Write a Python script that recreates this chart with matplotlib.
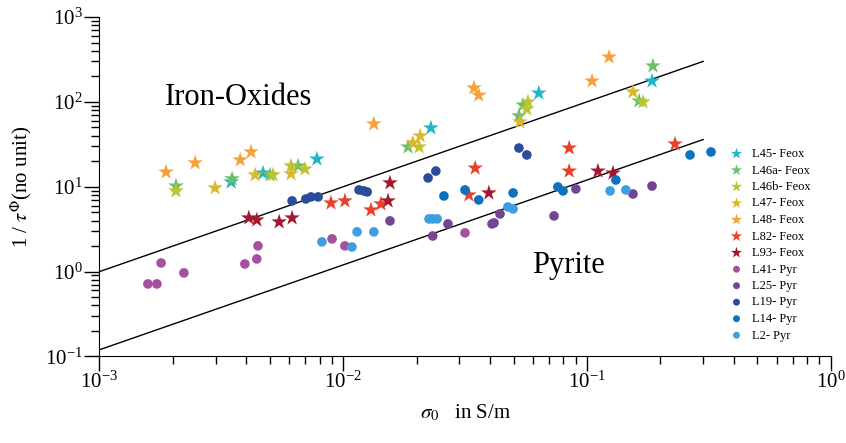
import matplotlib.pyplot as plt

plt.rcParams["font.family"] = ["Liberation Serif", "DejaVu Serif"]
plt.rcParams["mathtext.fontset"] = "stix"

# sigma_0 in S/m (x) and 1/tau^Phi (y) for each sample
l45_x = [0.00347, 0.00469, 0.0078, 0.0229, 0.0635, 0.185]
l45_y = [11.4, 14.5, 21.2, 49.3, 127, 176]
l46a_x = [0.00206, 0.0035, 0.00501, 0.00653, 0.01845, 0.0526, 0.0547, 0.1637, 0.1866]
l46a_y = [10.2, 12.4, 13.8, 17.6, 29.4, 68.2, 91.9, 102.5, 265]
l46b_x = [0.00206, 0.00515, 0.00611, 0.00697, 0.0205, 0.0567, 0.0573, 0.170]
l46b_y = [8.93, 13.8, 17.6, 16.2, 29.4, 82.5, 99.7, 99.7]
l47_x = [0.00298, 0.00435, 0.00611, 0.0193, 0.0207, 0.0531, 0.1545]
l47_y = [9.68, 13.8, 14.2, 32.8, 39.7, 58, 131]
l48_x = [0.001875, 0.00247, 0.00378, 0.00419, 0.01336, 0.0344, 0.0360, 0.105, 0.1233]
l48_y = [14.9, 19.1, 20.7, 25.7, 55, 146, 120, 176, 338]
l82_x = [0.00891, 0.01016, 0.0130, 0.01429, 0.0328, 0.0348, 0.0846, 0.0846, 0.230]
l82_y = [6.44, 6.81, 5.33, 6.27, 8.0, 16.6, 28.6, 15.3, 31.9]
l93_x = [0.0041, 0.00442, 0.00546, 0.00617, 0.01528, 0.01556, 0.0396, 0.111, 0.128]
l93_y = [4.29, 4.06, 3.85, 4.29, 6.81, 11.1, 8.45, 15.3, 14.5]
l41_x = [0.00158, 0.00172, 0.00179, 0.00222, 0.00395, 0.00442, 0.00447, 0.0090, 0.01016, 0.0316]
l41_y = [0.716, 0.716, 1.265, 0.966, 1.23, 1.41, 2.01, 2.43, 2.01, 2.86]
l25_x = [0.01556, 0.0233, 0.0269, 0.0408, 0.0416, 0.0440, 0.0733, 0.0901, 0.1545, 0.185]
l25_y = [3.96, 2.63, 3.65, 3.65, 3.75, 4.78, 4.53, 9.42, 8.22, 10.2]
l19_x = [0.00617, 0.00703, 0.00738, 0.00789, 0.01161, 0.01216, 0.01254, 0.0223, 0.0240, 0.0526, 0.0567]
l19_y = [6.81, 7.18, 7.59, 7.59, 9.17, 8.93, 8.69, 12.7, 15.3, 28.6, 23.7]
l14_x = [0.0259, 0.0316, 0.0360, 0.0498, 0.0760, 0.0798, 0.1315, 0.265, 0.323]
l14_y = [7.79, 9.17, 6.99, 8.45, 9.95, 8.93, 12.0, 23.7, 25.7]
l2_x = [0.00818, 0.01086, 0.0114, 0.01336, 0.0225, 0.0233, 0.0243, 0.0474, 0.0498, 0.1245, 0.1445]
l2_y = [2.24, 1.95, 2.94, 2.94, 4.18, 4.18, 4.18, 5.78, 5.48, 8.93, 9.17]

# boundary lines between the two groups
line_x = [1e-3, 0.3]
upper_y = [1.0, 300]
lower_y = [0.12, 36]

series = [
    ("L45- Feox", l45_x, l45_y, "#1fb6c9", "*"),
    ("L46a- Feox", l46a_x, l46a_y, "#6cbf6e", "*"),
    ("L46b- Feox", l46b_x, l46b_y, "#bcc531", "*"),
    ("L47- Feox", l47_x, l47_y, "#d9b92b", "*"),
    ("L48- Feox", l48_x, l48_y, "#f7a13a", "*"),
    ("L82- Feox", l82_x, l82_y, "#e8402b", "*"),
    ("L93- Feox", l93_x, l93_y, "#a3182f", "*"),
    ("L41- Pyr", l41_x, l41_y, "#a5519e", "o"),
    ("L25- Pyr", l25_x, l25_y, "#744595", "o"),
    ("L19- Pyr", l19_x, l19_y, "#2b4b9b", "o"),
    ("L14- Pyr", l14_x, l14_y, "#0b72bd", "o"),
    ("L2- Pyr", l2_x, l2_y, "#3c9fdf", "o"),
]

fig = plt.figure(figsize=(8.46, 4.43), dpi=100)
ax = fig.add_axes([0.1176, 0.1953, 0.8642, 0.7663])

ax.plot(line_x, upper_y, color="black", lw=1.0, zorder=1)
ax.plot(line_x, lower_y, color="black", lw=1.0, zorder=1)

for name, xs, ys, col, mk in series:
    size = 140 if mk == "*" else 48
    ax.scatter(xs, ys, s=size, marker=mk, color=col, edgecolors="none",
               label=name, zorder=3)

ax.set_xscale("log")
ax.set_yscale("log")
ax.set_xlim(1e-3, 1)
ax.set_ylim(0.1, 1000)

ax.spines["top"].set_visible(False)
ax.spines["right"].set_visible(False)
ax.tick_params(which="major", direction="out", length=11, width=1, labelsize=15, pad=1)
ax.tick_params(which="minor", direction="out", length=5.5, width=1)
ax.tick_params(axis="x", which="major", pad=0)

ax.set_xlabel(r"$\sigma_0$   in S/m", fontsize=15, labelpad=7)
ax.set_ylabel(r"1 / $\tau^{\Phi}$(no unit)", fontsize=15, labelpad=8)

ax.text(0.19, 0.764, "Iron-Oxides", transform=ax.transAxes, fontsize=22,
        ha="center", va="center")
ax.text(0.642, 0.268, "Pyrite", transform=ax.transAxes, fontsize=22,
        ha="center", va="center")

ax.legend(loc="upper left", bbox_to_anchor=(729 / 846, 1 - 148 / 443),
          bbox_transform=fig.transFigure, frameon=False, fontsize=9,
          borderpad=0, borderaxespad=0, handlelength=1.2, handletextpad=0.6,
          labelspacing=0.36, markerscale=0.72, scatterpoints=1)

fig.savefig("out.png", dpi=100)
